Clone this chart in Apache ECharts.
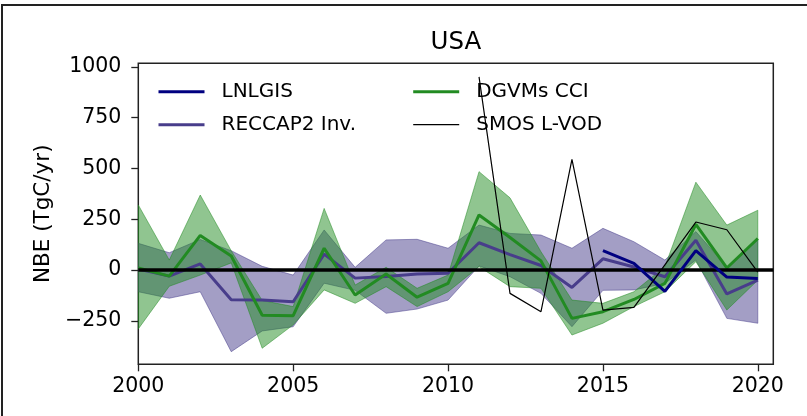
<!DOCTYPE html>
<html>
<head>
<meta charset="utf-8">
<script src="https://cdn.jsdelivr.net/npm/echarts@6/dist/echarts.min.js"></script>
<style>
  html, body { margin: 0; padding: 0; background: #fff; }
  #chart { width: 807px; height: 416px; }
</style>
</head>
<body>
<div id="chart"></div>
<script>
// Net biome exchange for the USA, 2000-2020 (TgC/yr)
const years = [2000, 2001, 2002, 2003, 2004, 2005, 2006, 2007, 2008, 2009, 2010,
               2011, 2012, 2013, 2014, 2015, 2016, 2017, 2018, 2019, 2020];

const lnlgis = [null, null, null, null, null, null, null, null, null, null, null,
                null, null, null, null, 95, 33, -105, 95, -35, -42];

const reccapMean = [5, -30, 30, -146, -148, -156, 78, -40, -32, -20, -16,
                    134, 76, 22, -86, 55, 15, -33, 146, -118, -50];
const reccapHigh = [131, 85, 150, 95, 18, -25, 197, 13, 148, 151, 107,
                    221, 180, 172, 107, 205, 139, 49, 189, 15, 148];
const reccapLow = [-107, -139, -107, -402, -300, -279, -65, -100, -213, -192, -148,
                   20, -33, -115, -279, -100, -98, -66, 49, -238, -262];

const dgvmMean = [10, -30, 170, 69, -223, -225, 107, -123, -20, -134, -66,
                  271, 160, 45, -238, -205, -145, -66, 224, 10, 155];
const dgvmHigh = [320, 49, 369, 95, -150, -180, 303, -74, 13, -90, -25,
                  484, 355, 90, -148, -164, -107, 16, 432, 221, 294];
const dgvmLow = [-290, -80, -25, 35, -385, -270, -98, -164, -82, -180, -107,
                 16, -82, -90, -320, -262, -180, -107, 41, -197, -50];

const smos = [null, null, null, null, null, null, null, null, null, null, null,
              950, -115, -205, 544, -197, -184, 25, 236, 198, -10];

const xTicks = [2000, 2005, 2010, 2015, 2020];
const yTicks = [-250, 0, 250, 500, 750, 1000];

const FONT = '"DejaVu Sans", sans-serif';
const AXIS_COLOR = '#222';

function pairs(values) {
  const out = [];
  values.forEach((v, i) => { if (v !== null) out.push([years[i], v]); });
  return out;
}

// Shaded spread between a lower and an upper series
function band(low, high, color, z) {
  return {
    type: 'custom',
    silent: true,
    clip: true,
    z: z,
    data: years.map((y, i) => [y, low[i], high[i]]),
    encode: { x: 0, y: [1, 2] },
    renderItem: function (params, api) {
      if (params.dataIndex !== 0) return null;
      const pts = [];
      for (let i = 0; i < years.length; i++) pts.push(api.coord([years[i], high[i]]));
      for (let i = years.length - 1; i >= 0; i--) pts.push(api.coord([years[i], low[i]]));
      return {
        type: 'polygon',
        shape: { points: pts },
        style: { fill: color, stroke: color, lineWidth: 1 }
      };
    }
  };
}

function line(name, values, color, width, z) {
  return {
    name: name,
    type: 'line',
    data: pairs(values),
    symbol: 'none',
    z: z,
    lineStyle: { color: color, width: width },
    itemStyle: { color: color },
    emphasis: { disabled: true }
  };
}

const chart = echarts.init(document.getElementById('chart'), null, { renderer: 'canvas' });

const legendCommon = {
  orient: 'vertical',
  top: 81.7,
  padding: 0,
  itemWidth: 46,
  itemHeight: 20,
  itemGap: 13,
  itemStyle: { opacity: 0 },
  selectedMode: false,
  textStyle: { fontFamily: FONT, fontSize: 20, color: '#000', lineHeight: 20, padding: [0, 0, 0, 12] }
};

const smosSeries = line('SMOS L-VOD', smos, '#000', 1.2, 6);
smosSeries.markLine = {
  silent: true,
  symbol: 'none',
  label: { show: false },
  lineStyle: { color: '#000', width: 3.5, type: 'solid' },
  data: [{ yAxis: 0 }]
};

chart.setOption({
  animation: false,
  backgroundColor: '#fff',
  textStyle: { fontFamily: FONT },
  grid: {
    left: 138.3, right: 33.7, top: 63.3, bottom: 51.7,
    show: true, borderColor: AXIS_COLOR, borderWidth: 1.5, backgroundColor: 'transparent'
  },
  legend: [
    Object.assign({}, legendCommon, {
      left: 157,
      data: [
        { name: 'LNLGIS', lineStyle: { width: 3 } },
        { name: 'RECCAP2 Inv.', lineStyle: { width: 3 } }
      ]
    }),
    Object.assign({}, legendCommon, {
      left: 411.7,
      data: [
        { name: 'DGVMs CCI', lineStyle: { width: 3 } },
        { name: 'SMOS L-VOD', lineStyle: { width: 1.2 } }
      ]
    })
  ],
  xAxis: {
    type: 'value',
    min: 2000,
    max: 2020.5,
    axisLine: { show: false, onZero: false },
    axisTick: { show: true, length: 7, lineStyle: { color: AXIS_COLOR, width: 1.3 }, customValues: xTicks },
    axisLabel: {
      customValues: xTicks, margin: 12, fontSize: 20.5, color: '#000', fontFamily: FONT,
      formatter: v => String(v)
    },
    splitLine: { show: false }
  },
  yAxis: {
    type: 'value',
    min: -464,
    max: 1017,
    name: 'NBE (TgC/yr)',
    nameLocation: 'middle',
    nameGap: 82,
    nameTextStyle: { fontSize: 21.5, color: '#000', fontFamily: FONT },
    axisLine: { show: false },
    axisTick: { show: true, length: 7, lineStyle: { color: AXIS_COLOR, width: 1.3 }, customValues: yTicks },
    axisLabel: {
      customValues: yTicks, margin: 17, fontSize: 20.5, color: '#000', fontFamily: FONT,
      formatter: v => (v < 0 ? '\u2212' + Math.abs(v) : String(v))
    },
    splitLine: { show: false }
  },
  graphic: [
    {
      type: 'rect', silent: true,
      shape: { x: 2, y: 5, width: 860, height: 460 },
      style: { fill: 'none', stroke: '#222', lineWidth: 2 }
    },
    {
      type: 'text', silent: true, x: 455.8, y: 30,
      style: { text: 'USA', font: '24.5px ' + FONT, fill: '#000', textAlign: 'center', textVerticalAlign: 'top' }
    }
  ],
  series: [
    band(reccapLow, reccapHigh, 'rgba(72, 61, 139, 0.5)', 1),
    band(dgvmLow, dgvmHigh, 'rgba(34, 139, 34, 0.5)', 1),
    line('RECCAP2 Inv.', reccapMean, '#483d8b', 3, 3),
    line('DGVMs CCI', dgvmMean, '#228b22', 3, 4),
    line('LNLGIS', lnlgis, '#000080', 3, 5),
    smosSeries
  ]
});
</script>
</body>
</html>
